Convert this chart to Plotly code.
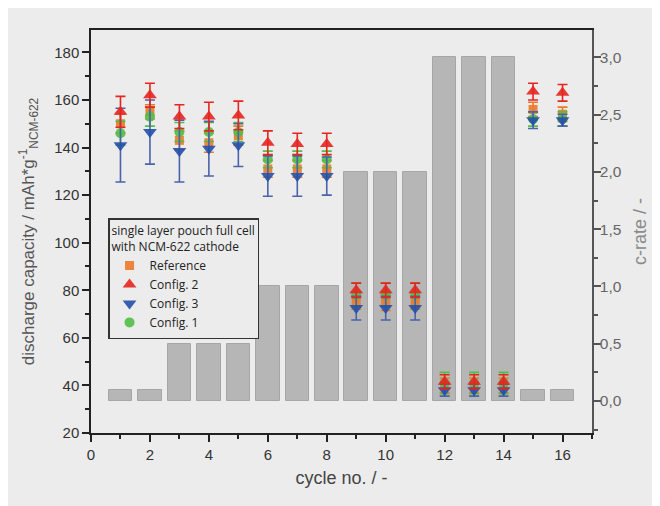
import plotly.graph_objects as go

cycles = list(range(1, 17))
c_rate = [0.1, 0.1, 0.5, 0.5, 0.5, 1.0, 1.0, 1.0, 2.0, 2.0, 2.0, 3.0, 3.0, 3.0, 0.1, 0.1]

ref_vals = [150, 155, 143, 142, 145, 131, 131, 131, 75.5, 75, 75.5, 40, 40, 40, 156, 154]
ref_err = [4, 3, 4, 4, 4, 3.5, 3.5, 3.5, 3.5, 3.5, 3.5, 3, 3, 3, 3, 3]

cfg2_vals = [155, 162, 153, 153, 153.5, 142, 141.5, 141.5, 80, 80, 80, 41.5, 41.5, 41.5, 163.5, 163]
cfg2_err = [6.5, 5, 5, 6, 6, 5, 4.5, 4.5, 3, 3, 3, 3, 3, 3, 3.5, 3.5]

cfg3_vals = [141, 146.5, 138.5, 139.5, 141, 128, 128, 128, 72.5, 72.5, 72.5, 38, 38, 38, 151.5, 151.5]
cfg3_err = [15.5, 13.5, 13, 11.5, 9, 8.5, 8.5, 8, 5, 5, 5, 2.5, 2.5, 2.5, 3.5, 2.5]

cfg1_vals = [146, 153, 146.5, 146.5, 146.5, 135, 135, 135, 78, 78, 78, 41, 41, 41, 152, 152]
cfg1_err = [5, 4, 4, 4, 4, 3.5, 3.5, 3.5, 5, 5, 5, 4.5, 4.5, 4.5, 3, 3]

# (name, values, errors, symbol, colour, size, legend rank) - listed in drawing order
series = [
    ("Reference", ref_vals, ref_err, "square", "#ec7a28", 9, 1),
    ("Config. 1", cfg1_vals, cfg1_err, "circle", "#52be45", 10, 4),
    ("Config. 3", cfg3_vals, cfg3_err, "triangle-down", "#2350aa", 12, 3),
    ("Config. 2", cfg2_vals, cfg2_err, "triangle-up", "#e52620", 12, 2),
]

fig = go.Figure()

# c-rate bars on the primary (right-hand) axis so they are drawn underneath
fig.add_trace(go.Bar(
    x=cycles, y=c_rate, yaxis="y", width=0.8,
    marker=dict(color="#b6b6b6", line=dict(color="#a6a6a6", width=1)),
    showlegend=False, hoverinfo="skip",
))

err_colors = {"Config. 3": "#4a63ab"}
for name, vals, errs, sym, col, size, rank in series:
    fig.add_trace(go.Scatter(
        x=cycles, y=vals, yaxis="y2", mode="markers", name=name, legendrank=rank,
        marker=dict(symbol=sym, color=col, size=size, opacity=0.9, line=dict(width=0)),
        error_y=dict(type="data", array=errs, visible=True,
                     color=err_colors.get(name, col), thickness=1.6, width=5),
    ))

font_family = "Liberation Sans, Arial, sans-serif"
leg_font = "Open Sans, sans-serif"

fig.update_layout(
    width=660, height=506,
    margin=dict(l=83, r=76, t=22, b=81, autoexpand=False),
    paper_bgcolor="#ececec", plot_bgcolor="#ececec",
    separators=",.",
    font=dict(family=font_family, color="#333"),
    bargap=0,
    xaxis=dict(
        range=[0, 17], tickmode="array", tickvals=list(range(0, 17, 2)),
        ticks="outside", ticklen=7, tickwidth=1.5, tickcolor="#222",
        showline=True, linecolor="#222", linewidth=1.5, mirror=True,
        showgrid=False, zeroline=False, automargin=False,
        minor=dict(dtick=1, tick0=0, ticks="outside", ticklen=4, tickwidth=1.5, tickcolor="#222", showgrid=False),
        tickfont=dict(size=15, color="#333"),
        title=dict(text="cycle no. / -", font=dict(size=18, color="#444"), standoff=10),
    ),
    yaxis=dict(
        side="right", anchor="x", automargin=False,
        range=[-0.279, 3.238], tickmode="array", tickvals=[0, 0.5, 1.0, 1.5, 2.0, 2.5, 3.0],
        tickformat=".1f", ticklabelstandoff=-4,
        ticks="outside", ticklen=7, tickwidth=1.5, tickcolor="#555",
        showline=True, linecolor="#555", linewidth=1.5,
        showgrid=False, zeroline=False,
        minor=dict(dtick=0.25, tick0=0, ticks="outside", ticklen=4, tickwidth=1.5, tickcolor="#555", showgrid=False),
        tickfont=dict(size=15.5, color="#666"),
        title=dict(text="c-rate / -", font=dict(size=18, color="#8a8a8a"), standoff=13),
    ),
    yaxis2=dict(
        overlaying="y", side="left", anchor="x", automargin=False,
        range=[20, 189.4], tick0=20, dtick=20,
        ticks="outside", ticklen=7, tickwidth=1.5, tickcolor="#222",
        showline=True, linecolor="#222", linewidth=1.5,
        showgrid=False, zeroline=False,
        minor=dict(dtick=10, tick0=20, ticks="outside", ticklen=4, tickwidth=1.5, tickcolor="#222", showgrid=False),
        tickfont=dict(size=15, color="#333"),
        title=dict(text="discharge capacity / mAh*g<sup>-1</sup><sub>NCM-622</sub>",
                   font=dict(size=17, color="#555"), standoff=15),
    ),
    legend=dict(
        x=0.034, y=0.533, xanchor="left", yanchor="top",
        bgcolor="#ececec", bordercolor="#333", borderwidth=1.5,
        font=dict(family=leg_font, size=12, color="#222"),
        title=dict(text="single layer pouch full cell<br>with NCM-622 cathode",
                   font=dict(family=leg_font, size=12, color="#222")),
        itemwidth=30, tracegroupgap=0, traceorder="normal",
    ),
)

fig.write_html("out.html")
